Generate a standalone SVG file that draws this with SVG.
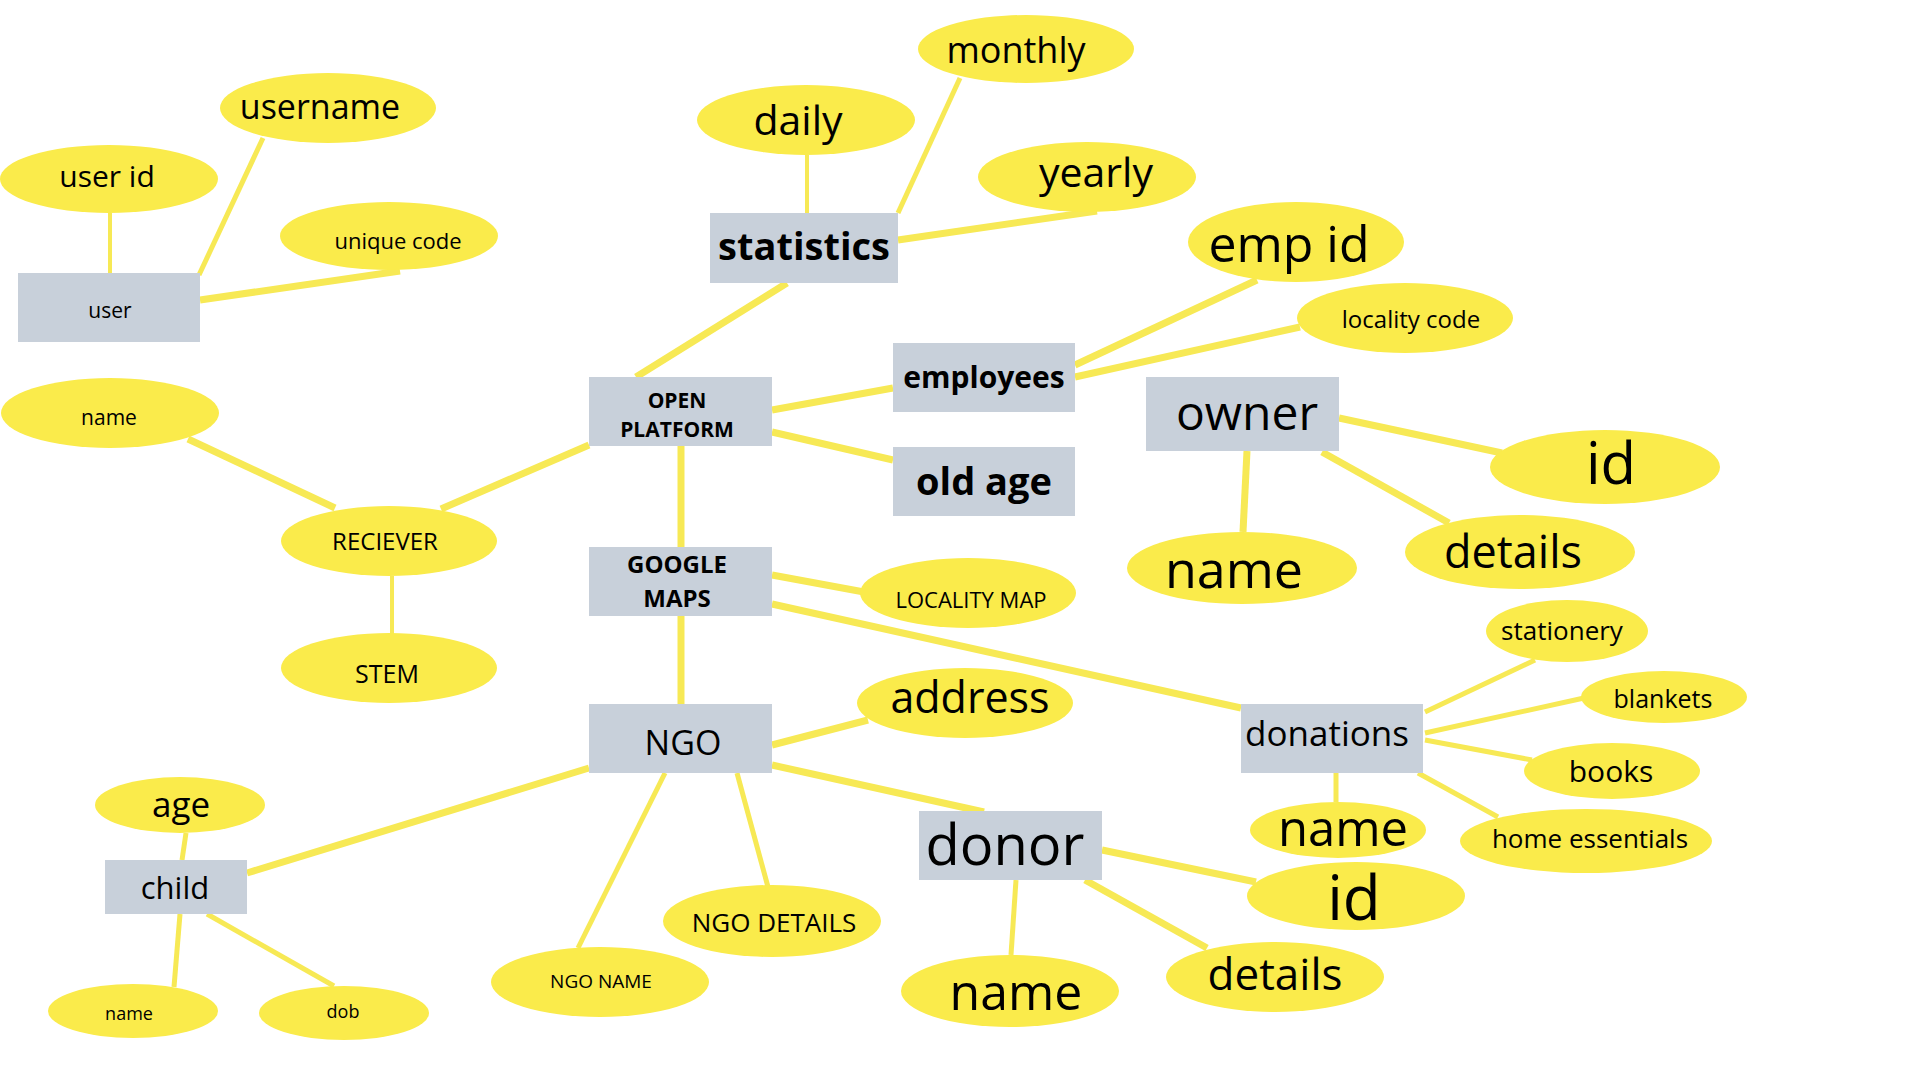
<svg xmlns="http://www.w3.org/2000/svg" width="1920" height="1080" viewBox="0 0 1920 1080">
<style>
.e{fill:#FAEB4B}
.r{fill:#C8D0DA}
.l{stroke:#F7E955;stroke-width:5;stroke-linecap:butt;fill:none}
.t{stroke-width:4}
.k{stroke-width:7}
text{font-family:"Open Sans","Noto Sans","Liberation Sans",sans-serif;fill:#000;text-anchor:middle}
.b{font-weight:bold}
</style>
<rect width="1920" height="1080" fill="#fff"/>
<g id="connectors">
<line class="l t" x1="110" y1="213" x2="110" y2="273"/>
<line class="l" x1="263" y1="138" x2="199" y2="275"/>
<line class="l k" x1="400" y1="271" x2="200" y2="300"/>
<line class="l t" x1="807" y1="155" x2="807" y2="213"/>
<line class="l" x1="960" y1="78" x2="898" y2="213"/>
<line class="l k" x1="1097" y1="211" x2="898" y2="240"/>
<line class="l k" x1="787" y1="283" x2="636" y2="377"/>
<line class="l k" x1="772" y1="410" x2="893" y2="388"/>
<line class="l k" x1="772" y1="432" x2="893" y2="460"/>
<line class="l k" x1="681" y1="446" x2="681" y2="547"/>
<line class="l k" x1="681" y1="616" x2="681" y2="704"/>
<line class="l k" x1="772" y1="575" x2="864" y2="592"/>
<line class="l k" x1="772" y1="604" x2="1241" y2="708"/>
<line class="l k" x1="772" y1="745" x2="868" y2="720"/>
<line class="l k" x1="772" y1="765" x2="984" y2="812"/>
<line class="l k" x1="1257" y1="280" x2="1075" y2="365"/>
<line class="l k" x1="1300" y1="327" x2="1075" y2="377"/>
<line class="l k" x1="1339" y1="418" x2="1502" y2="453"/>
<line class="l k" x1="1322" y1="452" x2="1449" y2="523"/>
<line class="l k" x1="1247" y1="451" x2="1243" y2="532"/>
<line class="l k" x1="188" y1="439" x2="335" y2="508"/>
<line class="l k" x1="441" y1="509" x2="589" y2="445"/>
<line class="l t" x1="392" y1="576" x2="392" y2="634"/>
<line class="l" x1="186" y1="833" x2="182" y2="860"/>
<line class="l k" x1="247" y1="873" x2="589" y2="768"/>
<line class="l" x1="180" y1="914" x2="174" y2="987"/>
<line class="l" x1="207" y1="914" x2="334" y2="986"/>
<line class="l" x1="665" y1="773" x2="578" y2="948"/>
<line class="l" x1="737" y1="773" x2="768" y2="887"/>
<line class="l" x1="1425" y1="712" x2="1535" y2="660"/>
<line class="l" x1="1425" y1="733" x2="1584" y2="698"/>
<line class="l" x1="1425" y1="740" x2="1532" y2="760"/>
<line class="l" x1="1418" y1="773" x2="1498" y2="817"/>
<line class="l" x1="1336" y1="773" x2="1336" y2="802"/>
<line class="l k" x1="1102" y1="850" x2="1256" y2="882"/>
<line class="l k" x1="1085" y1="880" x2="1207" y2="948"/>
<line class="l" x1="1016" y1="880" x2="1011" y2="955"/>
</g>
<g id="user"><rect class="r" x="18" y="273" width="182" height="69"/><text x="110" y="318" font-size="21">user</text></g>
<g id="user-id"><ellipse class="e" cx="109" cy="179" rx="109" ry="34"/><text x="107" y="187" font-size="30">user id</text></g>
<g id="username"><ellipse class="e" cx="328" cy="108" rx="108" ry="35"/><text x="320" y="119" font-size="34">username</text></g>
<g id="unique-code"><ellipse class="e" cx="389" cy="236" rx="109" ry="34"/><text x="398" y="249" font-size="22">unique code</text></g>
<g id="statistics"><rect class="r" x="710" y="213" width="188" height="70"/><text class="b" x="804" y="260" font-size="38">statistics</text></g>
<g id="daily"><ellipse class="e" cx="806" cy="120" rx="109" ry="35"/><text x="798" y="135" font-size="41">daily</text></g>
<g id="monthly"><ellipse class="e" cx="1026" cy="49" rx="108" ry="34"/><text x="1016" y="63" font-size="36">monthly</text></g>
<g id="yearly"><ellipse class="e" cx="1087" cy="177" rx="109" ry="35"/><text x="1096" y="187" font-size="41">yearly</text></g>
<g id="open-platform"><rect class="r" x="589" y="377" width="183" height="69"/><text class="b" x="677" y="408" font-size="21">OPEN</text><text class="b" x="677" y="437" font-size="21">PLATFORM</text></g>
<g id="employees"><rect class="r" x="893" y="343" width="182" height="69"/><text class="b" x="984" y="388" font-size="30">employees</text></g>
<g id="old-age"><rect class="r" x="893" y="447" width="182" height="69"/><text class="b" x="984" y="495" font-size="38">old age</text></g>
<g id="emp-id"><ellipse class="e" cx="1296" cy="242" rx="108" ry="40"/><text x="1289" y="262" font-size="50">emp id</text></g>
<g id="locality-code"><ellipse class="e" cx="1405" cy="318" rx="108" ry="35"/><text x="1411" y="328" font-size="24">locality code</text></g>
<g id="owner"><rect class="r" x="1146" y="377" width="193" height="74"/><text x="1247" y="430" font-size="48">owner</text></g>
<g id="owner-id"><ellipse class="e" cx="1605" cy="467" rx="115" ry="37"/><text x="1611" y="484" font-size="58">id</text></g>
<g id="owner-details"><ellipse class="e" cx="1520" cy="552" rx="115" ry="37"/><text x="1513" y="568" font-size="45">details</text></g>
<g id="owner-name"><ellipse class="e" cx="1242" cy="568" rx="115" ry="36"/><text x="1234" y="588" font-size="52">name</text></g>
<g id="receiver-name"><ellipse class="e" cx="110" cy="413" rx="109" ry="35"/><text x="109" y="425" font-size="21">name</text></g>
<g id="reciever"><ellipse class="e" cx="389" cy="541" rx="108" ry="35"/><text x="385" y="550" font-size="24">RECIEVER</text></g>
<g id="stem"><ellipse class="e" cx="389" cy="668" rx="108" ry="35"/><text x="387" y="683" font-size="25">STEM</text></g>
<g id="google-maps"><rect class="r" x="589" y="547" width="183" height="69"/><text class="b" x="677" y="573" font-size="24">GOOGLE</text><text class="b" x="677" y="607" font-size="24">MAPS</text></g>
<g id="locality-map"><ellipse class="e" cx="968" cy="593" rx="108" ry="35"/><text x="971" y="608" font-size="22">LOCALITY MAP</text></g>
<g id="ngo"><rect class="r" x="589" y="704" width="183" height="69"/><text x="683" y="755" font-size="34">NGO</text></g>
<g id="address"><ellipse class="e" cx="965" cy="703" rx="108" ry="35"/><text x="970" y="713" font-size="43">address</text></g>
<g id="child"><rect class="r" x="105" y="860" width="142" height="54"/><text x="175" y="899" font-size="31">child</text></g>
<g id="age"><ellipse class="e" cx="180" cy="805" rx="85" ry="28"/><text x="181" y="817" font-size="35">age</text></g>
<g id="child-name"><ellipse class="e" cx="133" cy="1011" rx="85" ry="27"/><text x="129" y="1020" font-size="18">name</text></g>
<g id="dob"><ellipse class="e" cx="344" cy="1013" rx="85" ry="27"/><text x="343" y="1018" font-size="18">dob</text></g>
<g id="ngo-name"><ellipse class="e" cx="600" cy="982" rx="109" ry="35"/><text x="601" y="988" font-size="19">NGO NAME</text></g>
<g id="ngo-details"><ellipse class="e" cx="772" cy="921" rx="109" ry="36"/><text x="774" y="932" font-size="26">NGO DETAILS</text></g>
<g id="donations"><rect class="r" x="1241" y="704" width="182" height="69"/><text x="1327" y="746" font-size="35">donations</text></g>
<g id="stationery"><ellipse class="e" cx="1567" cy="631" rx="81" ry="31"/><text x="1562" y="640" font-size="26">stationery</text></g>
<g id="blankets"><ellipse class="e" cx="1664" cy="697" rx="83" ry="26"/><text x="1663" y="708" font-size="25">blankets</text></g>
<g id="books"><ellipse class="e" cx="1612" cy="771" rx="88" ry="28"/><text x="1611" y="782" font-size="30">books</text></g>
<g id="home-essentials"><ellipse class="e" cx="1586" cy="841" rx="126" ry="32"/><text x="1590" y="848" font-size="26">home essentials</text></g>
<g id="donations-name"><ellipse class="e" cx="1338" cy="830" rx="88" ry="28"/><text x="1343" y="846" font-size="49">name</text></g>
<g id="donor"><rect class="r" x="919" y="811" width="183" height="69"/><text x="1005" y="865" font-size="56">donor</text></g>
<g id="donor-id"><ellipse class="e" cx="1356" cy="896" rx="109" ry="34"/><text x="1354" y="920" font-size="62">id</text></g>
<g id="donor-details"><ellipse class="e" cx="1275" cy="977" rx="109" ry="35"/><text x="1275" y="990" font-size="44">details</text></g>
<g id="donor-name"><ellipse class="e" cx="1010" cy="991" rx="109" ry="36"/><text x="1016" y="1010" font-size="50">name</text></g>
</svg>
